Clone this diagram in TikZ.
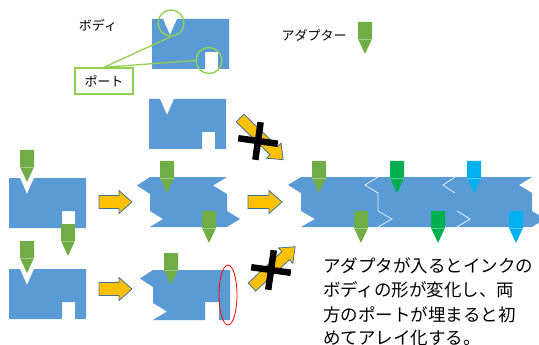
\documentclass[tikz,border=0pt]{standalone}
\usepackage{fontspec}
\setmainfont{Noto Sans CJK JP}
\definecolor{bodyblue}{HTML}{5B9BD5}
\definecolor{adgreen}{HTML}{70AD47}
\definecolor{addark}{HTML}{00B050}
\definecolor{adcyan}{HTML}{00B0F0}
\definecolor{arrorange}{HTML}{FFC000}
\definecolor{arredge}{HTML}{41719C}
\definecolor{callout}{HTML}{92D050}
\tikzset{
  bodyfill/.style={fill=bodyblue},
  jointline/.style={draw=white, opacity=0.85, line width=0.8},
  arrstyle/.style={fill=arrorange, draw=arredge, line width=0.8, line join=miter},
  xbar/.style={draw=black, line width=6.5},
  callcirc/.style={circle, draw=callout, line width=1.3, minimum size=26, inner sep=0},
  lblbox/.style={draw=callout, line width=1.5, fill=white, minimum width=58, minimum height=26, inner sep=0, font=\fontsize{13}{15}\selectfont},
  smalllbl/.style={inner sep=0, font=\fontsize{13}{15}\selectfont},
  maintext/.style={inner sep=0, anchor=base west, font=\fontsize{17.5}{20}\selectfont},
}
% adapter: centre x, top y, colour
\newcommand\adpt[3]{%
  \fill[#3] (#1-7,#2) -- (#1+7,#2) -- (#1+7,#2+17) -- (#1,#2+32) -- (#1-7,#2+17) -- cycle;
  \draw[white, opacity=0.35, line width=0.6] (#1-7,#2+17) -- (#1+7,#2+17);}
% plain body: left x, top y
\newcommand\plainbody[2]{%
  \fill[bodyfill] (#1,#2) -- (#1+11,#2) -- (#1+18,#2+16) -- (#1+25,#2) -- (#1+77,#2) -- (#1+77,#2+50)
   -- (#1+66,#2+50) -- (#1+66,#2+33) -- (#1+53,#2+33) -- (#1+53,#2+50) -- (#1,#2+50) -- cycle;}
% block arrow: x, y, angle, length, shaft half, head half, head length
\newcommand\barrow[7]{%
  \draw[arrstyle, shift={(#1,#2)}, rotate=#3] (0,-#5) -- (#4-#7,-#5) -- (#4-#7,-#6) -- (#4,0)
   -- (#4-#7,#6) -- (#4-#7,#5) -- (0,#5) -- cycle;}
\begin{document}
\begin{tikzpicture}[x=1pt, y=-1pt]
\useasboundingbox (0,0) rectangle (539,345);
\fill[white] (0,0) rectangle (539,345);
\clip (0,0) rectangle (539,345);

% ---- top explanation ----
\plainbody{152}{19}
\plainbody{149}{99}
\node[smalllbl] (tbody) at (98,25) {ボディ};
\node[smalllbl] (tadapter) at (314,35) {アダプター};
\adpt{365}{22}{adgreen}
\node[callcirc] (c1) at (171,23) {};
\node[callcirc] (c2) at (209,60.5) {};
\node[lblbox] (lbl) at (104,81) {ポート};
\draw[callout, line width=1.3] (lbl.north) -- (c1.south);
\draw[callout, line width=1.3] (lbl.north) -- (c2.west);

% ---- row 2 ----
\plainbody{9}{178}
\fill[bodyfill] (150,177) -- (227,177) -- (213,185.5) -- (227,194) -- (227,211) -- (240,219)
  -- (227,227) -- (150,227) -- (163,219) -- (150,211) -- (150,194) -- (137,185.5) -- cycle;
\fill[bodyfill] (301,177) -- (532,177) -- (519,185) -- (532,193) -- (532,211) -- (545,219)
  -- (532,227) -- (301,227) -- (315,219) -- (301,211) -- (301,193) -- (288,185) -- cycle;
\draw[jointline] (378,177) -- (365,185) -- (378,193) -- (378,211) -- (392,219) -- (378,227);
\draw[jointline] (455,177) -- (443,185) -- (455,193);
\draw[jointline] (457,211) -- (470,219) -- (457,227);

% ---- row 3 ----
\plainbody{9}{269}
\fill[bodyfill] (153,270) -- (230,270) -- (230,320) -- (219,320) -- (219,302) -- (205,302)
  -- (205,320) -- (153,320) -- (167,311.5) -- (153,303) -- (153,287) -- (140,278.5) -- cycle;
\draw[red, line width=0.8] (228,295) ellipse [x radius=9, y radius=30];

% ---- adapters ----
\adpt{27}{150}{adgreen}
\adpt{68}{224}{adgreen}
\adpt{27}{241}{adgreen}
\adpt{167}{161}{adgreen}
\adpt{209}{211}{adgreen}
\adpt{171}{253}{adgreen}
\adpt{319}{161}{adgreen}
\adpt{397}{161}{addark}
\adpt{474}{161}{adcyan}
\adpt{361}{211}{adgreen}
\adpt{438}{211}{addark}
\adpt{516}{211}{adcyan}

% ---- arrows ----
\barrow{99}{202}{0}{33}{6.5}{11.5}{13}
\barrow{248}{202}{0}{34}{6.5}{11.5}{13}
\barrow{99}{289}{0}{33}{6.5}{11.5}{13}
\barrow{240}{118}{-44}{60}{5.5}{10.5}{13}
\barrow{252}{287}{43}{59}{5.5}{10.5}{13}
\draw[xbar, shift={(258,141)}, rotate=-8] (-20,0) -- (20,0) (0,-19) -- (0,19);
\draw[xbar, shift={(271,270)}, rotate=-8] (-20,0) -- (20,0) (0,-20) -- (0,20);

% ---- text ----
\node[maintext] (t1) at (323,272) {アダプタが入るとインクの};
\node[maintext] (t2) at (323,296.5) {ボディの形が変化し、両};
\node[maintext] (t3) at (323,321) {方のポートが埋まると初};
\node[maintext] (t4) at (323,344) {めてアレイ化する。};
\end{tikzpicture}
\end{document}
